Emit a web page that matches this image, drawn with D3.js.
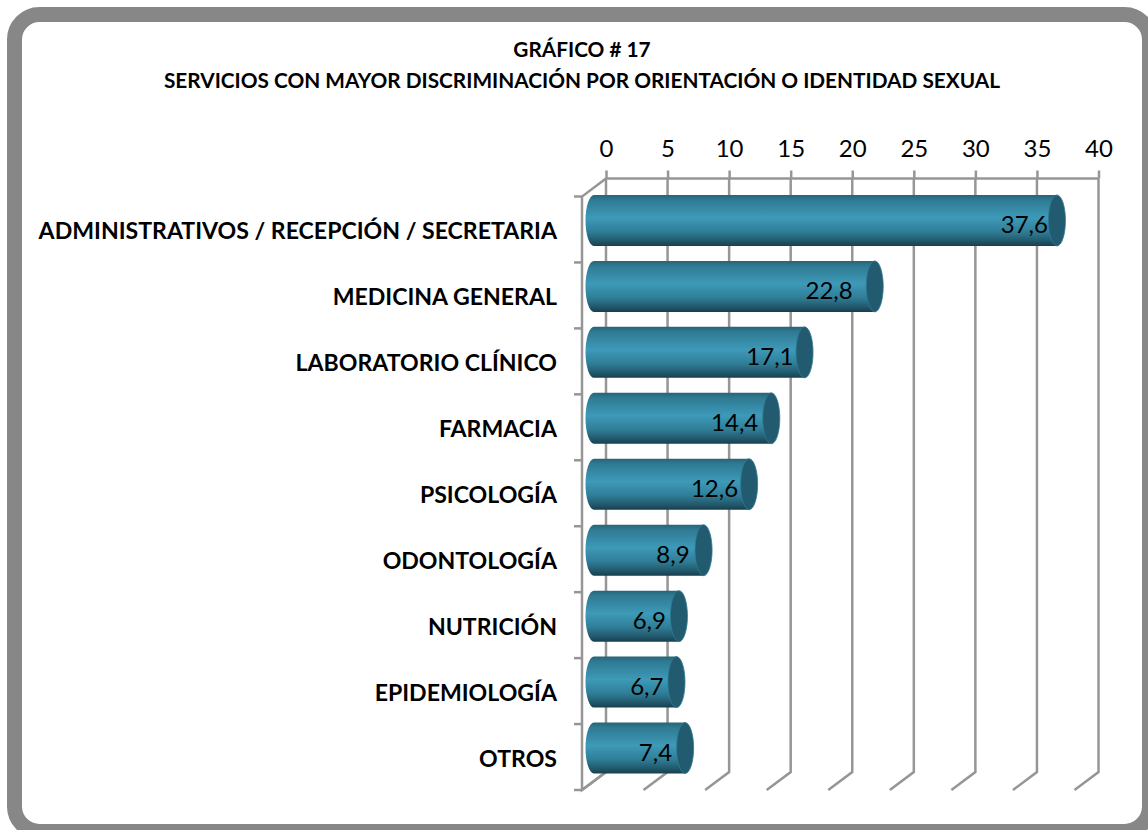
<!DOCTYPE html>
<html>
<head>
<meta charset="utf-8">
<script src="https://cdn.jsdelivr.net/npm/d3@7"></script>
<style>
 html, body { margin: 0; padding: 0; background: #fff; overflow: hidden; }
 text { font-family: Lato, Carlito, "Open Sans", sans-serif; fill: #000; }
</style>
</head>
<body>
<svg width="1148" height="830"></svg>
<script>
'use strict';
//..........Data................
const categories = ['ADMINISTRATIVOS / RECEPCIÓN / SECRETARIA', 'MEDICINA GENERAL', 'LABORATORIO CLÍNICO',
  'FARMACIA', 'PSICOLOGÍA', 'ODONTOLOGÍA', 'NUTRICIÓN', 'EPIDEMIOLOGÍA', 'OTROS'];
const values = [37.6, 22.8, 17.1, 14.4, 12.6, 8.9, 6.9, 6.7, 7.4];
const xTicks = [0, 5, 10, 15, 20, 25, 30, 35, 40];
const titleLines = ['GRÁFICO # 17', 'SERVICIOS CON MAYOR DISCRIMINACIÓN POR ORIENTACIÓN O IDENTIDAD SEXUAL'];

//..........Layout................
const svg = d3.select('svg');
const gridColor = '#969696';
const depth = { x: 24, y: 18 };          // how far the back wall sits from the front plane
const wall = { left: 606, right: 1098.5, top: 178.5, bottom: 772 };
const labelGap = [9, 22, 11, 13, 11, 14, 13, 13, 13];   // data label end, left of the cap centre

const x = d3.scaleLinear().domain([0, 40]).range([wall.left, wall.right]);
const y = d3.scaleBand().domain(categories)
  .range([wall.top + depth.y, wall.bottom + depth.y])
  .paddingInner(0.227).paddingOuter(0.1135);

const num = d => String(d).replace('.', ',');

//..........Gradient................
const grad = svg.append('defs').append('linearGradient')
  .attr('id', 'barFill').attr('x1', 0).attr('x2', 0).attr('y1', 0).attr('y2', 1);
[[0, '#276478'], [0.1, '#2f7a93'], [0.45, '#3d9ab8'], [0.72, '#2f7e98'], [0.9, '#22586b'], [1, '#173f4e']]
  .forEach(s => grad.append('stop').attr('offset', s[0]).attr('stop-color', s[1]));

//..........Frame................
svg.append('rect')
  .attr('x', 14.5).attr('y', 14.5).attr('width', 1135).attr('height', 817)
  .attr('rx', 25).attr('fill', '#fff').attr('stroke', '#878787').attr('stroke-width', 15);

//..........Title................
svg.append('text')
  .attr('text-anchor', 'middle').attr('font-size', 20.8).attr('font-weight', 700)
  .selectAll('tspan').data(titleLines).join('tspan')
  .attr('x', 582).attr('y', (d, i) => 57 + i * 31).text(d => d);

//..........Grid................
const grid = svg.append('g').attr('fill', 'none').attr('stroke', gridColor).attr('stroke-width', 2.5);
grid.selectAll('path.v').data(xTicks).join('path').attr('class', 'v')
  .attr('d', d => `M${x(d)},${wall.top}V${wall.bottom}l${-depth.x},${depth.y}`);
grid.append('path').attr('d', `M${wall.left},${wall.top}H${wall.right}`);
grid.append('path').attr('d', `M${wall.left},${wall.top}l${-depth.x},${depth.y}V${wall.bottom + depth.y}l${depth.x},${-depth.y}`);

// left ticks sit on the front plane, one per band edge
const yEdges = categories.map(c => y(c) - y.step() * y.paddingInner() / 2).concat(wall.bottom + depth.y);
grid.selectAll('path.t').data(yEdges).join('path').attr('class', 't')
  .attr('d', d => `M${wall.left - depth.x - 8},${d}h8`);

//..........Top axis................
const axis = d3.axisTop(x).tickValues(xTicks).tickSize(8).tickPadding(14);
const axisG = svg.append('g').attr('transform', `translate(0 ${wall.top})`).call(axis);
axisG.select('.domain').remove();
axisG.selectAll('line').attr('stroke', gridColor).attr('stroke-width', 2.5);
axisG.selectAll('text').attr('font-size', 24).style('font-family', 'Lato').attr('fill', '#000');

//..........Category labels................
svg.append('g').selectAll('text').data(categories).join('text')
  .attr('x', 557).attr('y', d => y(d) + y.bandwidth() / 2 + 10)
  .attr('text-anchor', 'end').attr('font-size', 23.1).attr('font-weight', 700)
  .text(d => d);

//..........Bars................
const barX = v => x(v) - depth.x / 2;
const barTop = c => y(c) - depth.y / 2;
const rx = 8.5;
const ry = y.bandwidth() / 2;
const bars = svg.append('g').selectAll('g').data(categories).join('g')
  .attr('transform', c => `translate(0 ${barTop(c)})`);

bars.append('path')
  .attr('fill', 'url(#barFill)')
  .attr('d', (c, i) => `M${barX(0)},0H${barX(values[i])}V${2 * ry}H${barX(0)}A${rx},${ry} 0 0 1 ${barX(0)},0Z`);
bars.append('ellipse')
  .attr('cx', (c, i) => barX(values[i])).attr('cy', ry)
  .attr('rx', rx).attr('ry', ry)
  .attr('fill', '#225b6f').attr('stroke', '#2f7a93').attr('stroke-width', 0.8);
bars.append('text')
  .attr('x', (c, i) => barX(values[i]) - labelGap[i]).attr('y', ry + 13)
  .attr('text-anchor', 'end').attr('font-size', 24)
  .text((c, i) => num(values[i]));
</script>
</body>
</html>
